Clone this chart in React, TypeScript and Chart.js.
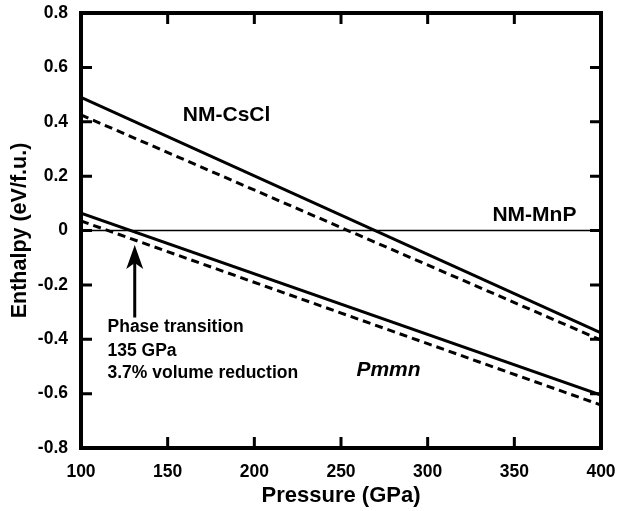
import React, { useEffect, useRef } from 'react';
import { Chart, registerables } from 'chart.js';

Chart.register(...registerables);

// ---- data ----
const pressure = [100, 400];
const csclSolid = [0.49, -0.377];
const csclDashed = [0.425, -0.403];
const mnpLine = [0, 0];
const pmmnSolid = [0.064, -0.605];
const pmmnDashed = [0.035, -0.642];

const xTickValues = [100, 150, 200, 250, 300, 350, 400];
const yTickValues = [-0.8, -0.6, -0.4, -0.2, 0, 0.2, 0.4, 0.6, 0.8];

// annotations (data coordinates)
const arrowPressure = 131;
const arrowTip = -0.053;
const arrowTail = -0.32;
const labelCsCl = { text: 'NM-CsCl', x: 184, y: 0.425 };
const labelMnP = { text: 'NM-MnP', x: 361.6, y: 0.057 };
const labelPmmn = { text: 'Pmmn', x: 277.4, y: -0.513 };
const noteX = 115.3;
const noteLines = ['Phase transition', '135 GPa', '3.7% volume reduction'];
const noteYs = [-0.355, -0.445, -0.523];

const FONT = '"Liberation Sans", Arial, Helvetica, sans-serif';

const toPts = (ys: number[]) => pressure.map((x, i) => ({ x, y: ys[i] }));

const framePlugin = {
  id: 'frame',
  afterDatasetsDraw(chart: any) {
    const { ctx, chartArea: a, scales } = chart;
    const xs = scales.x;
    const ys = scales.y;
    ctx.save();
    ctx.strokeStyle = '#000';
    ctx.fillStyle = '#000';
    // border
    ctx.lineWidth = 4;
    ctx.strokeRect(a.left, a.top, a.right - a.left, a.bottom - a.top);
    // inner ticks
    ctx.lineWidth = 3;
    const tl = 11;
    ctx.beginPath();
    xTickValues.forEach((v) => {
      const px = xs.getPixelForValue(v);
      ctx.moveTo(px, a.bottom);
      ctx.lineTo(px, a.bottom - tl);
      ctx.moveTo(px, a.top);
      ctx.lineTo(px, a.top + tl);
    });
    yTickValues.forEach((v) => {
      const py = ys.getPixelForValue(v);
      ctx.moveTo(a.left, py);
      ctx.lineTo(a.left + tl, py);
      ctx.moveTo(a.right, py);
      ctx.lineTo(a.right - tl, py);
    });
    ctx.stroke();

    // arrow
    const ax = xs.getPixelForValue(arrowPressure);
    const tipY = ys.getPixelForValue(arrowTip);
    const tailY = ys.getPixelForValue(arrowTail);
    ctx.lineWidth = 3;
    ctx.beginPath();
    ctx.moveTo(ax, tailY);
    ctx.lineTo(ax, tipY + 16);
    ctx.stroke();
    ctx.beginPath();
    ctx.moveTo(ax, tipY);
    ctx.lineTo(ax + 8.5, tipY + 24);
    ctx.lineTo(ax, tipY + 18);
    ctx.lineTo(ax - 8.5, tipY + 24);
    ctx.closePath();
    ctx.fill();

    // labels
    ctx.textBaseline = 'middle';
    ctx.textAlign = 'center';
    ctx.font = `bold 21px ${FONT}`;
    [labelCsCl, labelMnP].forEach((l) => {
      ctx.fillText(l.text, xs.getPixelForValue(l.x), ys.getPixelForValue(l.y));
    });
    ctx.font = `italic bold 21px ${FONT}`;
    ctx.fillText(labelPmmn.text, xs.getPixelForValue(labelPmmn.x), ys.getPixelForValue(labelPmmn.y));

    ctx.font = `bold 17.5px ${FONT}`;
    ctx.textAlign = 'left';
    noteLines.forEach((t, i) => {
      ctx.fillText(t, xs.getPixelForValue(noteX), ys.getPixelForValue(noteYs[i]));
    });
    ctx.restore();
  },
};

export default function App() {
  const ref = useRef<HTMLCanvasElement | null>(null);
  useEffect(() => {
    if (!ref.current) return;
    const solid = { borderColor: '#000', borderWidth: 3, pointRadius: 0, fill: false };
    const dashed = { ...solid, borderDash: [8, 5] };
    const zeroPad = (s: any) => {
      s.paddingTop = 0;
      s.paddingBottom = 0;
      s.paddingLeft = 0;
      s.paddingRight = 0;
    };
    const chart = new Chart(ref.current, {
      type: 'line',
      data: {
        datasets: [
          { label: 'NM-CsCl', data: toPts(csclSolid), ...solid },
          { label: 'NM-CsCl (dashed)', data: toPts(csclDashed), ...dashed },
          { label: 'NM-MnP', data: toPts(mnpLine), borderColor: '#000', borderWidth: 1.5, pointRadius: 0, fill: false },
          { label: 'Pmmn', data: toPts(pmmnSolid), ...solid },
          { label: 'Pmmn (dashed)', data: toPts(pmmnDashed), ...dashed },
        ],
      },
      options: {
        responsive: false,
        animation: false,
        events: [],
        layout: { padding: { left: 0, right: 16, top: 13, bottom: 0 } },
        plugins: { legend: { display: false }, tooltip: { enabled: false } },
        scales: {
          x: {
            type: 'linear',
            min: 100,
            max: 400,
            afterBuildTicks: (s: any) => {
              s.ticks = xTickValues.map((v) => ({ value: v }));
            },
            afterFit: (s: any) => {
              s.height = 63;
              zeroPad(s);
            },
            grid: { display: false, drawTicks: false },
            border: { display: false },
            ticks: {
              color: '#000',
              padding: 14,
              maxRotation: 0,
              font: { family: FONT, size: 17.5, weight: 'bold' },
              callback: (v: any) => String(v),
            },
            title: {
              display: true,
              text: 'Pressure (GPa)',
              color: '#000',
              font: { family: FONT, size: 22, weight: 'bold' },
              padding: { top: 0, bottom: 2 },
            },
          },
          y: {
            type: 'linear',
            min: -0.8,
            max: 0.8,
            afterBuildTicks: (s: any) => {
              s.ticks = yTickValues.map((v) => ({ value: v }));
            },
            afterFit: (s: any) => {
              s.width = 81;
              zeroPad(s);
            },
            grid: { display: false, drawTicks: false },
            border: { display: false },
            ticks: {
              color: '#000',
              padding: 13,
              font: { family: FONT, size: 17.5, weight: 'bold' },
              callback: (v: any) => {
                const r = Math.round(Number(v) * 10) / 10;
                return r === 0 ? '0' : String(r);
              },
            },
            title: {
              display: true,
              text: 'Enthalpy (eV/f.u.)',
              color: '#000',
              font: { family: FONT, size: 21.5, weight: 'bold' },
              padding: { top: 7, bottom: 0 },
            },
          },
        },
      },
      plugins: [framePlugin],
    } as any);
    return () => chart.destroy();
  }, []);
  return (
    <div style={{ position: 'absolute', left: 0, top: 0, width: 617, height: 511, background: '#fff' }}>
      <canvas ref={ref} width={617} height={511} style={{ display: 'block' }} />
    </div>
  );
}
